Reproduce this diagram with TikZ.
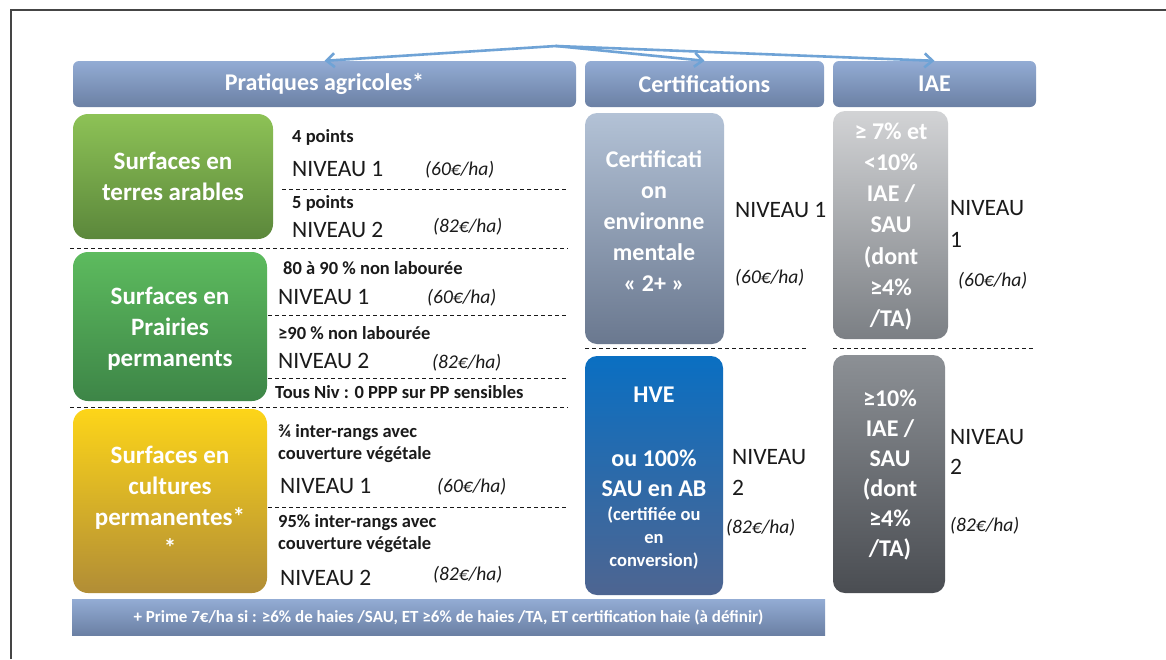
\documentclass[tikz,border=0pt]{standalone}
\usepackage{fontspec}
\setmainfont{Carlito}
\usetikzlibrary{arrows.meta}
\definecolor{hdrT}{HTML}{93ACD4}
\definecolor{hdrB}{HTML}{6B80A4}
\definecolor{gaT}{HTML}{8DC256}
\definecolor{gaB}{HTML}{5B873B}
\definecolor{gbT}{HTML}{5DBB5E}
\definecolor{gbB}{HTML}{3D8547}
\definecolor{yeT}{HTML}{FDD519}
\definecolor{yeB}{HTML}{B18D36}
\definecolor{ceT}{HTML}{B3C2D6}
\definecolor{ceB}{HTML}{6A788F}
\definecolor{hvT}{HTML}{0A6FC2}
\definecolor{hvB}{HTML}{4E6591}
\definecolor{iaT}{HTML}{D2D3D5}
\definecolor{iaB}{HTML}{7B7F84}
\definecolor{ibT}{HTML}{8C9095}
\definecolor{ibB}{HTML}{4A4D52}
\definecolor{arr}{HTML}{6FA3D6}
\definecolor{txt}{HTML}{1A1A1A}
\definecolor{frm}{HTML}{454545}
\begin{document}
\begin{tikzpicture}[x=1pt,y=-1pt,
  shp/.style={rectangle,inner sep=0,draw=none,rounded corners=#1},
  hdr/.style={shp=6pt,top color=hdrT,bottom color=hdrB,minimum height=46pt,
     text=white,font=\fontsize{24}{28}\selectfont\bfseries},
  btxt/.style={text=white,align=center,inner sep=0,font=\fontsize{24}{31}\selectfont\bfseries},
  ltxt/.style={text=white,align=center,inner sep=0,font=\fontsize{25}{31}\selectfont\bfseries},
  lvl/.style={anchor=west,inner sep=0,text=txt,align=left,font=\fontsize{23.5}{28}\selectfont},
  eur/.style={anchor=west,inner sep=0,text=txt,font=\fontsize{19.5}{23}\selectfont\itshape},
  crit/.style={anchor=west,inner sep=0,text=txt,align=left,font=\fontsize{18.5}{22}\selectfont\bfseries},
  sep/.style={draw=txt,line width=0.9pt,dash pattern=on 4pt off 3pt},
  link/.style={draw=arr,line width=2.6pt,-{Straight Barb[length=8pt,width=14pt]}}
]
\useasboundingbox (0,0) rectangle (1166,659);
\fill[white] (0,0) rectangle (1166,659);
% frame
\draw[frm,line width=1.6pt] (11,659) -- (11,10) -- (1166,10);

% headers
\node[hdr,minimum width=503pt] (hp) at (324.5,84) {Pratiques agricoles*};
\node[hdr,minimum width=239pt] (hc) at (704.5,84) {Certifications};
\node[hdr,minimum width=203pt] (hi) at (934.5,84) {IAE};

% arrows
\coordinate (apex) at (556,46);
\draw[link] (apex) -- (hp.north);
\draw[link] (apex) -- (hc.north);
\draw[link] (apex) -- (hi.north);

% left boxes
\node[shp=15pt,top color=gaT,bottom color=gaB,minimum width=200pt,minimum height=125pt] (ga) at (173,176.5) {};
\node[ltxt] (gat) at (173,176.5) {Surfaces en\\terres arables};
\node[shp=15pt,top color=gbT,bottom color=gbB,minimum width=194pt,minimum height=149pt] (gb) at (170,326.5) {};
\node[ltxt] (gbt) at (170,329) {Surfaces en\\Prairies\\permanents};
\node[shp=15pt,top color=yeT,bottom color=yeB,minimum width=194pt,minimum height=184pt] (ye) at (170,501) {};
\node[ltxt] (yet) at (170,501) {Surfaces en\\cultures\\permanentes*\\*};

% terres arables
\node[crit] (a1c) at (292,137) {4 points};
\node[lvl] (a1n) at (292,169) {NIVEAU 1};
\node[eur] (a1e) at (425,170) {(60€/ha)};
\draw[sep] (282,189) -- (568,189);
\node[crit] (a2c) at (292,203) {5 points};
\node[lvl] (a2n) at (292,230) {NIVEAU 2};
\node[eur] (a2e) at (433,227) {(82€/ha)};
\draw[sep] (70,248) -- (568,248);

% prairies
\node[crit] (b1c) at (283,268) {80 à 90 \% non labourée};
\node[lvl] (b1n) at (278,297) {NIVEAU 1};
\node[eur] (b1e) at (427,298) {(60€/ha)};
\draw[sep] (268,315) -- (568,315);
\node[crit] (b2c) at (278,333) {≥90 \% non labourée};
\node[lvl] (b2n) at (278,361) {NIVEAU 2};
\node[eur] (b2e) at (432,363) {(82€/ha)};
\draw[sep] (268,378) -- (568,378);
\node[crit] (b3c) at (275,392) {Tous Niv : 0 PPP sur PP sensibles};
\draw[sep] (70,407) -- (568,407);

% cultures permanentes
\node[crit] (c1c) at (278,444) {¾ inter-rangs avec\\couverture végétale};
\node[lvl] (c1n) at (280,486) {NIVEAU 1};
\node[eur] (c1e) at (437,487) {(60€/ha)};
\draw[sep] (268,507) -- (568,507);
\node[crit] (c2c) at (278,534) {95\% inter-rangs avec\\couverture végétale};
\node[lvl] (c2n) at (280,578) {NIVEAU 2};
\node[eur] (c2e) at (433,575) {(82€/ha)};

% certifications
\node[shp=12pt,top color=ceT,bottom color=ceB,minimum width=139pt,minimum height=231pt] (ce) at (654.5,228.5) {};
\node[btxt] (cet) at (654,221) {Certificati\\on\\environne\\mentale\\« 2+ »};
\node[lvl] (cen) at (735,210) {NIVEAU 1};
\node[eur] (cee) at (735,278) {(60€/ha)};
\draw[sep] (585,348) -- (807,348);
\node[shp=12pt,top color=hvT,bottom color=hvB,minimum width=138pt,minimum height=239pt] (hv) at (654,475.5) {};
\node[btxt] (hva) at (654,395) {HVE};
\node[btxt,font=\fontsize{24}{30}\selectfont\bfseries] (hvb) at (654,473) {ou 100\%\\SAU en AB};
\node[btxt,font=\fontsize{18.5}{23}\selectfont\bfseries] (hvc) at (654,538) {(certifiée ou\\en\\conversion)};
\node[lvl,font=\fontsize{23.5}{31}\selectfont] (hvn) at (732,472.5) {NIVEAU\\2};
\node[eur] (hve) at (726,528) {(82€/ha)};

% IAE
\node[shp=12pt,top color=iaT,bottom color=iaB,minimum width=115pt,minimum height=228pt] (ia) at (890.5,225) {};
\node[btxt,font=\fontsize{24}{31.2}\selectfont\bfseries] (iat) at (891,226.5) {≥ 7\% et\\<10\%\\IAE /\\SAU\\(dont\\≥4\%\\/TA)};
\node[lvl,font=\fontsize{23.5}{32}\selectfont] (ian) at (950,224) {NIVEAU\\1};
\node[eur] (iae) at (958,281) {(60€/ha)};
\draw[sep] (833,348) -- (1033,348);
\node[shp=12pt,top color=ibT,bottom color=ibB,minimum width=112pt,minimum height=238pt] (ib) at (889,474) {};
\node[btxt,font=\fontsize{24}{30}\selectfont\bfseries] (ibt) at (890,475) {≥10\%\\IAE /\\SAU\\(dont\\≥4\%\\/TA)};
\node[lvl,font=\fontsize{23.5}{30}\selectfont] (ibn) at (950,452) {NIVEAU\\2};
\node[eur] (ibe) at (950,526) {(82€/ha)};

% bottom bar
\node[shp=0pt,top color=hdrT,bottom color=hdrB,minimum width=753pt,minimum height=36pt,
  text=white,font=\fontsize{17}{20}\selectfont\bfseries] (bar) at (448.5,617)
  {+ Prime 7€/ha si : ≥6\% de haies /SAU, ET ≥6\% de haies /TA, ET certification haie (à définir)};
\end{tikzpicture}
\end{document}
